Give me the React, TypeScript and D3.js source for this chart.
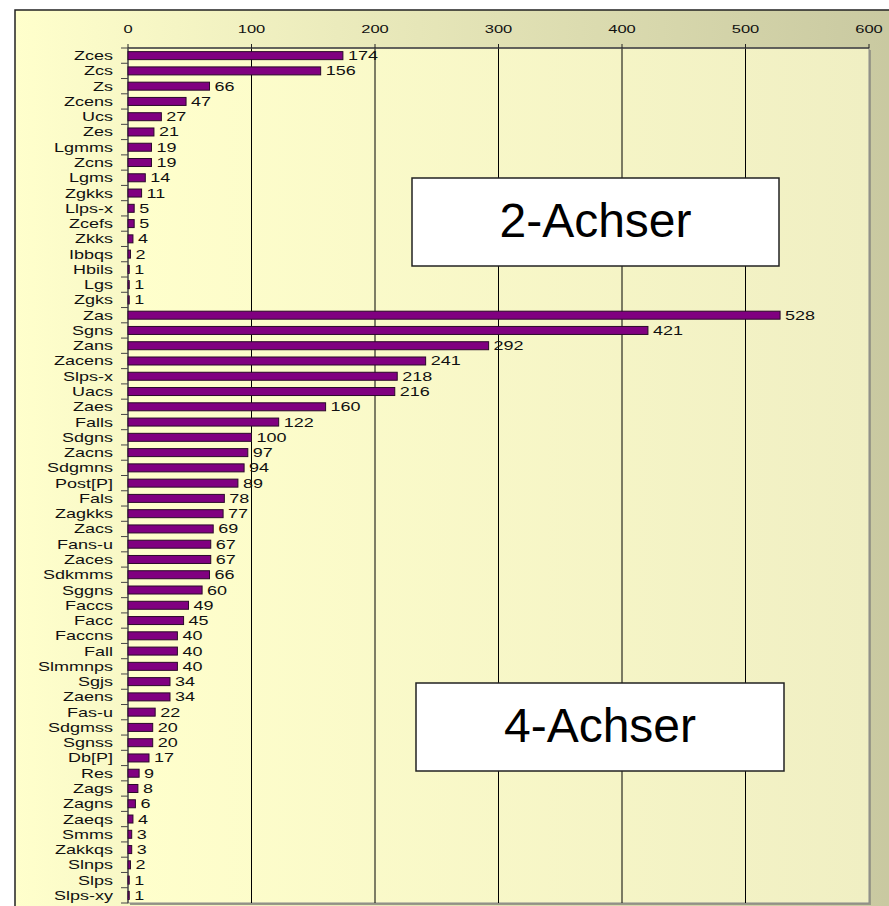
import React, { useEffect, useRef } from "react";
import * as d3 from "d3";

const categories = [
  "Zces", "Zcs", "Zs", "Zcens", "Ucs", "Zes", "Lgmms", "Zcns", "Lgms", "Zgkks",
  "Llps-x", "Zcefs", "Zkks", "Ibbqs", "Hbils", "Lgs", "Zgks",
  "Zas", "Sgns", "Zans", "Zacens", "Slps-x", "Uacs", "Zaes", "Falls", "Sdgns",
  "Zacns", "Sdgmns", "Post[P]", "Fals", "Zagkks", "Zacs", "Fans-u", "Zaces",
  "Sdkmms", "Sggns", "Faccs", "Facc", "Faccns", "Fall", "Slmmnps", "Sgjs",
  "Zaens", "Fas-u", "Sdgmss", "Sgnss", "Db[P]", "Res", "Zags", "Zagns",
  "Zaeqs", "Smms", "Zakkqs", "Slnps", "Slps", "Slps-xy",
];

const values = [
  174, 156, 66, 47, 27, 21, 19, 19, 14, 11, 5, 5, 4, 2, 1, 1, 1,
  528, 421, 292, 241, 218, 216, 160, 122, 100, 97, 94, 89, 78, 77, 69, 67, 67,
  66, 60, 49, 45, 40, 40, 40, 34, 34, 22, 20, 20, 17, 9, 8, 6, 4, 3, 3, 2, 1, 1,
];

const xTicks = [0, 100, 200, 300, 400, 500, 600];

const notes = [
  { label: "2-Achser", x0: 412, y0: 178, x1: 779, y1: 266 },
  { label: "4-Achser", x0: 416, y0: 683, x1: 784, y1: 771 },
];

// the small text in the picture is stretched sideways
const stretch = 1.5;
const font = "Liberation Sans, Arial, sans-serif";

export default function App() {
  const ref = useRef<SVGSVGElement>(null);

  useEffect(() => {
    const svg = d3.select(ref.current);
    svg.selectAll("*").remove();

    const W = 889, H = 906;
    const plot = { left: 128, right: 869, top: 48, bottom: 903 };

    const defs = svg.append("defs");
    const outerGrad = defs.append("linearGradient").attr("id", "outerGrad");
    outerGrad.append("stop").attr("offset", "0%").attr("stop-color", "#ffffcc");
    outerGrad.append("stop").attr("offset", "100%").attr("stop-color", "#c8c8a0");
    const innerGrad = defs.append("linearGradient").attr("id", "innerGrad");
    innerGrad.append("stop").attr("offset", "0%").attr("stop-color", "#ffffcc");
    innerGrad.append("stop").attr("offset", "100%").attr("stop-color", "#f0efc3");

    svg.append("rect").attr("width", W).attr("height", H).attr("fill", "#fff");
    svg.append("rect")
      .attr("x", 15).attr("y", 10).attr("width", W).attr("height", H)
      .attr("fill", "url(#outerGrad)")
      .attr("stroke", "#222").attr("stroke-width", 1.5);

    // plot area with a light shadow on right / bottom
    svg.append("rect")
      .attr("x", plot.left + 2).attr("y", plot.top + 2)
      .attr("width", plot.right - plot.left).attr("height", plot.bottom - plot.top)
      .attr("fill", "#9a9a88");
    svg.append("rect")
      .attr("x", plot.left).attr("y", plot.top)
      .attr("width", plot.right - plot.left).attr("height", plot.bottom - plot.top)
      .attr("fill", "url(#innerGrad)")
      .attr("stroke", "#888").attr("stroke-width", 1);

    const x = d3.scaleLinear().domain([0, 600]).range([plot.left, plot.right]);
    const y = d3.scaleBand().domain(categories).range([plot.top, plot.bottom]);

    // vertical grid lines
    svg.append("g").selectAll("line")
      .data(xTicks.filter(t => t > 0 && t < 600))
      .enter().append("line")
      .attr("x1", d => x(d)).attr("x2", d => x(d))
      .attr("y1", plot.top).attr("y2", plot.bottom)
      .attr("stroke", "#000").attr("stroke-width", 1);

    // top axis
    const top = svg.append("g");
    top.append("line")
      .attr("x1", plot.left).attr("x2", plot.right)
      .attr("y1", plot.top).attr("y2", plot.top)
      .attr("stroke", "#444").attr("stroke-width", 1.5);
    top.selectAll("line.tick").data(xTicks).enter().append("line")
      .attr("class", "tick")
      .attr("x1", d => x(d)).attr("x2", d => x(d))
      .attr("y1", plot.top - 4).attr("y2", plot.top)
      .attr("stroke", "#222");
    top.selectAll("text").data(xTicks).enter().append("text")
      .attr("transform", d => `translate(${x(d)},33) scale(${stretch},1)`)
      .attr("text-anchor", "middle")
      .attr("font-family", font)
      .attr("font-size", 11)
      .attr("fill", "#111")
      .text(d => d);

    // left axis
    const left = svg.append("g");
    left.append("line")
      .attr("x1", plot.left).attr("x2", plot.left)
      .attr("y1", plot.top).attr("y2", plot.bottom)
      .attr("stroke", "#555").attr("stroke-width", 1.5);
    left.selectAll("line.tick").data(d3.range(categories.length + 1)).enter().append("line")
      .attr("class", "tick")
      .attr("x1", plot.left - 7).attr("x2", plot.left)
      .attr("y1", i => plot.top + i * y.step()).attr("y2", i => plot.top + i * y.step())
      .attr("stroke", "#444");
    left.selectAll("text").data(categories).enter().append("text")
      .attr("transform", d => `translate(113,${(y(d) as number) + y.bandwidth() / 2 + 4.5}) scale(${stretch},1)`)
      .attr("text-anchor", "end")
      .attr("font-family", font)
      .attr("font-size", 12)
      .attr("fill", "#111")
      .text(d => d);

    // bars
    const barH = 8;
    svg.append("g").selectAll("rect")
      .data(values)
      .enter().append("rect")
      .attr("x", x(0))
      .attr("y", (d, i) => (y(categories[i]) as number) + y.bandwidth() / 2 - barH / 2)
      .attr("width", d => x(d) - x(0))
      .attr("height", barH)
      .attr("fill", "#800080")
      .attr("stroke", "#2a0a2a")
      .attr("stroke-width", 1);

    svg.append("g").selectAll("text")
      .data(values)
      .enter().append("text")
      .attr("transform", (d, i) =>
        `translate(${x(d) + 5},${(y(categories[i]) as number) + y.bandwidth() / 2 + 4.5}) scale(${stretch},1)`)
      .attr("font-family", font)
      .attr("font-size", 12)
      .attr("fill", "#111")
      .text(d => d);

    // annotation boxes
    const boxes = svg.append("g").selectAll("g").data(notes).enter().append("g");
    boxes.append("rect")
      .attr("x", d => d.x0).attr("y", d => d.y0)
      .attr("width", d => d.x1 - d.x0).attr("height", d => d.y1 - d.y0)
      .attr("fill", "#fff").attr("stroke", "#222").attr("stroke-width", 1.5);
    boxes.append("text")
      .attr("x", d => (d.x0 + d.x1) / 2)
      .attr("y", d => (d.y0 + d.y1) / 2 + 15)
      .attr("text-anchor", "middle")
      .attr("font-family", font)
      .attr("font-size", 48)
      .attr("fill", "#000")
      .text(d => d.label);
  }, []);

  return (
    <svg
      ref={ref}
      width={889}
      height={906}
      style={{ position: "absolute", left: 0, top: 0 }}
    />
  );
}
